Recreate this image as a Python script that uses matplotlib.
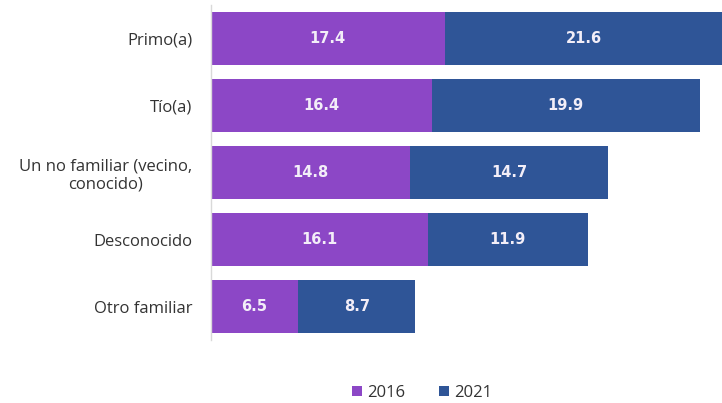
import matplotlib.pyplot as plt

# datos
categorias = ['Primo(a)', 'Tío(a)', 'Un no familiar (vecino,\nconocido)', 'Desconocido', 'Otro familiar']
valores_2016 = [17.4, 16.4, 14.8, 16.1, 6.5]
valores_2021 = [21.6, 19.9, 14.7, 11.9, 8.7]
series = ['2016', '2021']

color_2016 = '#8C47C6'
color_2021 = '#2F5597'

fig = plt.figure(figsize=(7.22, 4.03), dpi=100)
ax = fig.add_axes([0.2917, 0.1563, 0.7083, 0.8313])

pos = list(range(len(categorias)))
b1 = ax.barh(pos, valores_2016, height=0.79, color=color_2016, label=series[0])
b2 = ax.barh(pos, valores_2021, height=0.79, left=valores_2016, color=color_2021, label=series[1])

# etiquetas de valores dentro de las barras
for barras in (b1, b2):
    ax.bar_label(barras, labels=[f'{v:.1f}' for v in barras.datavalues],
                 label_type='center', color='#F3EEF8', fontsize=10.5,
                 fontweight='bold', family='DejaVu Sans')

ax.set_xlim(0, 37.94)
ax.set_ylim(4.5, -0.5)
ax.set_yticks(pos)
ax.set_yticklabels(categorias, fontsize=12, color='#333333', family='Open Sans',
                   multialignment='center')
ax.tick_params(axis='y', length=0, pad=13)
ax.set_xticks([])

for lado in ['top', 'right', 'bottom']:
    ax.spines[lado].set_visible(False)
ax.spines['left'].set_color('#D9D9D9')
ax.spines['left'].set_linewidth(1)

fig.legend(handles=[b1, b2], labels=series, loc='center', ncol=2,
           bbox_to_anchor=(422 / 722, 1 - 393 / 403), frameon=False,
           prop={'family': 'Open Sans', 'size': 12}, labelcolor='#333333',
           handlelength=0.6, handleheight=0.6, handletextpad=0.3, columnspacing=2.0)

fig.savefig('out.png', dpi=100)
